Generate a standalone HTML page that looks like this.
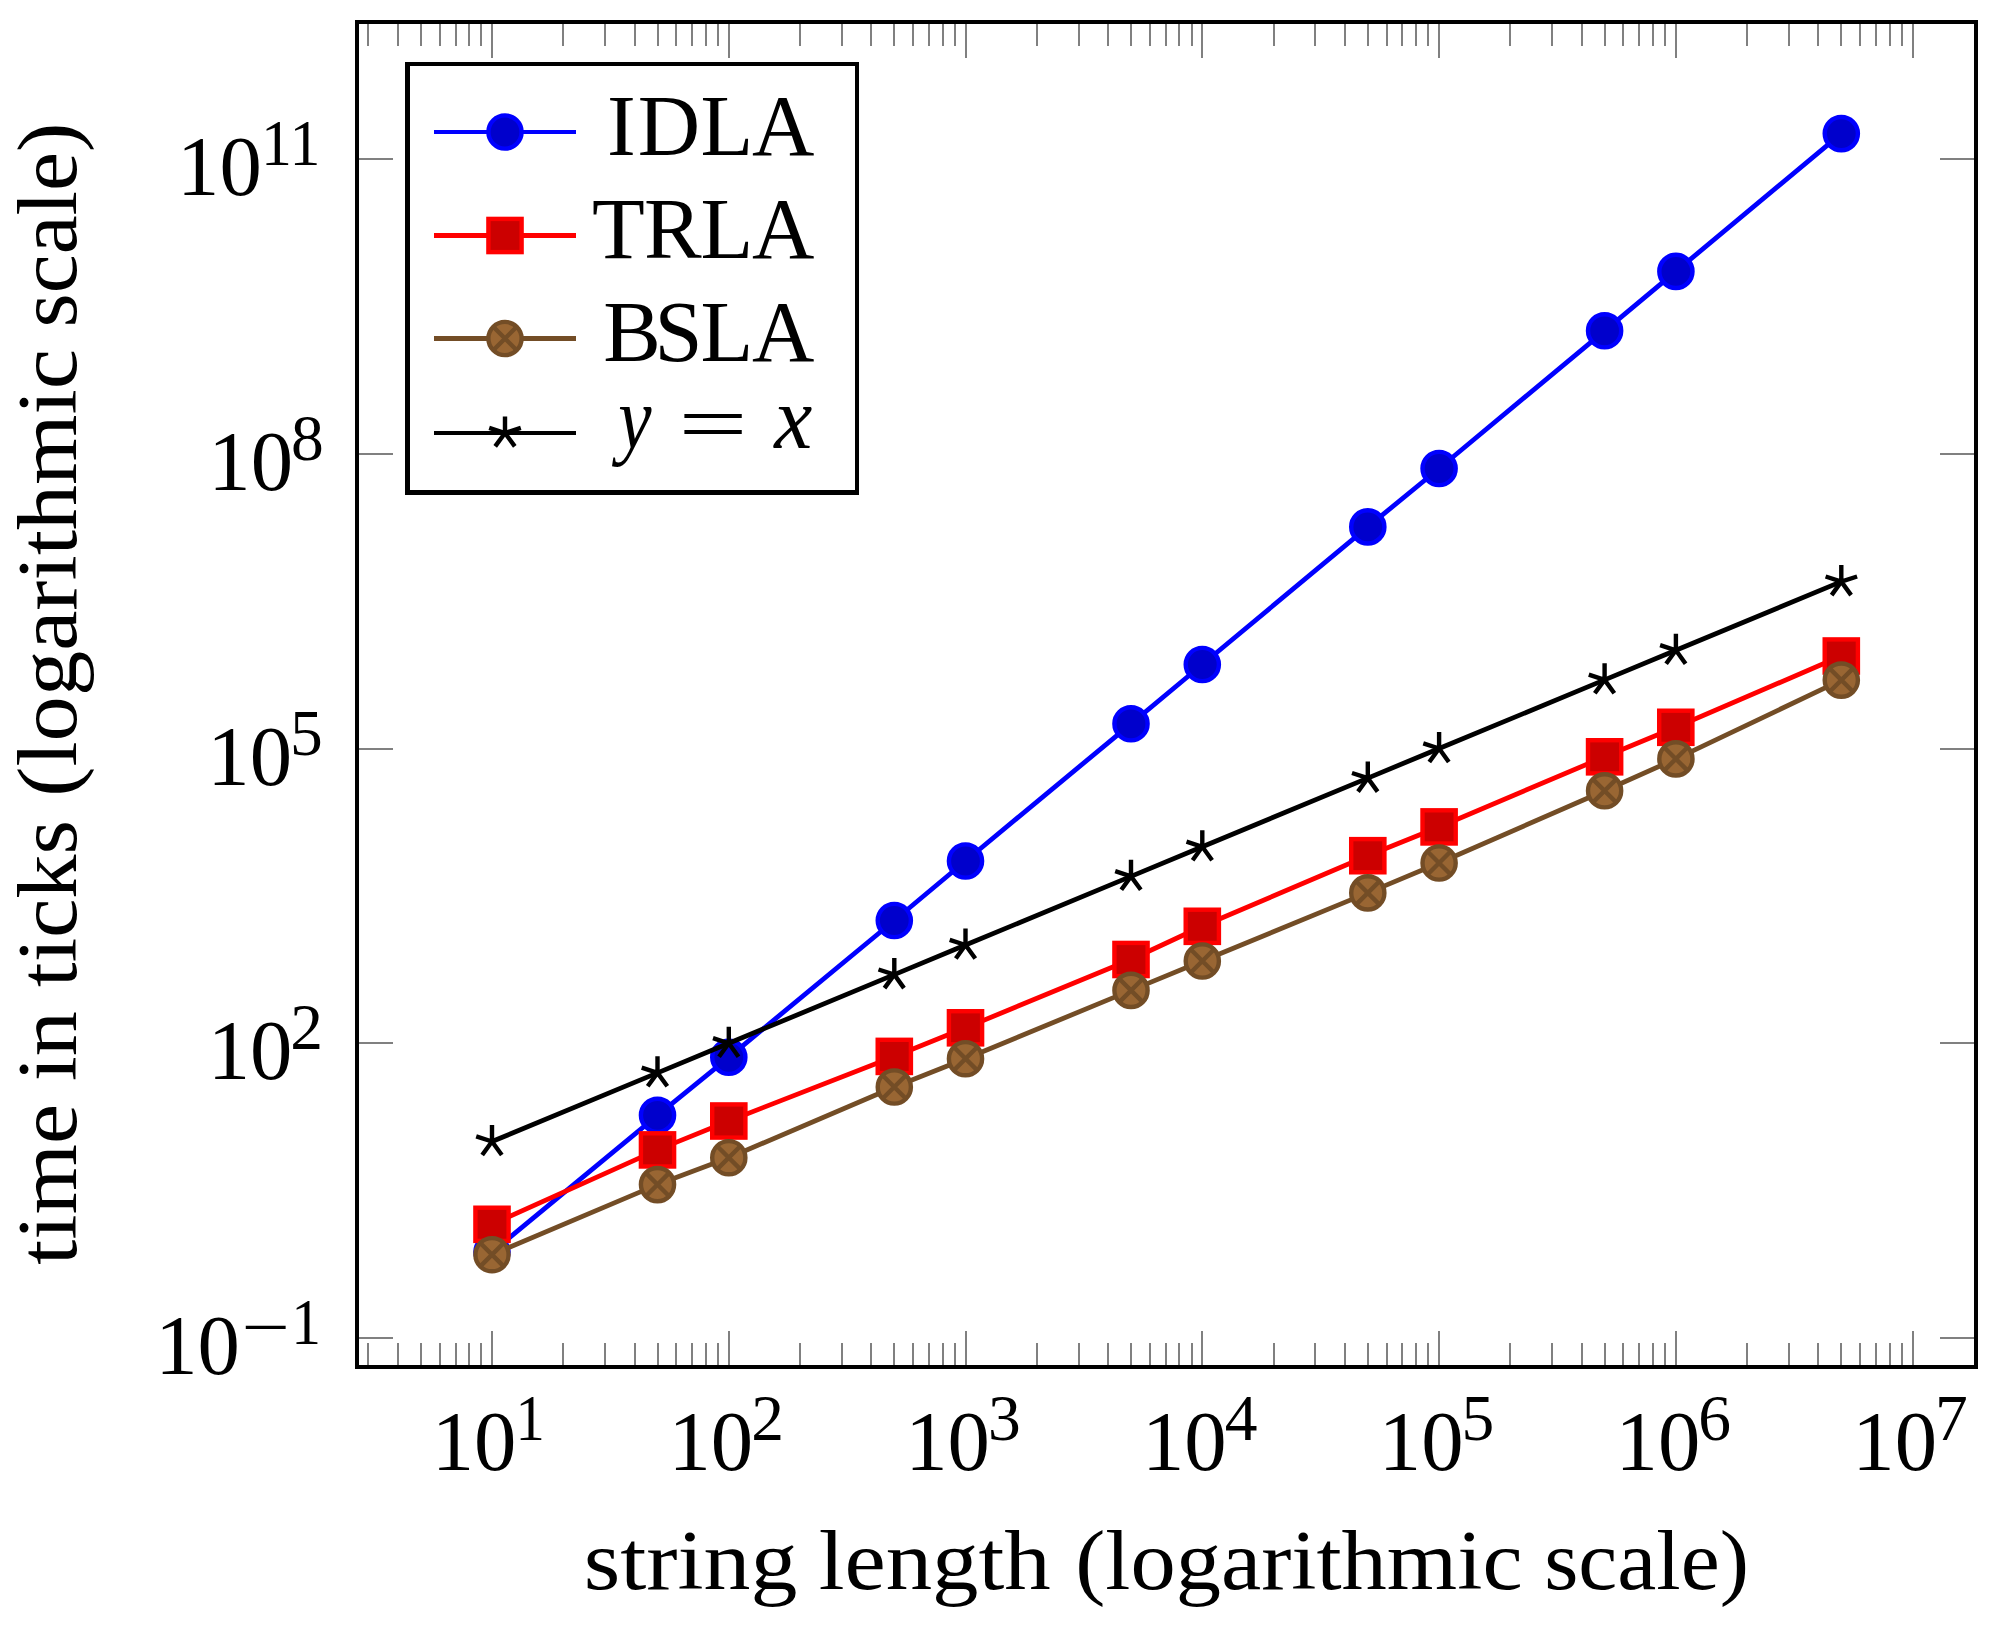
<!DOCTYPE html>
<html lang="en"><head><meta charset="utf-8"><title>Running time comparison</title>
<style>html,body{margin:0;padding:0;background:#fff}svg{display:block}text{white-space:pre}</style></head>
<body>
<svg width="1991" height="1631" viewBox="0 0 1991 1631">
<rect width="1991" height="1631" fill="#fff"/>
<path d="M368 1365.0v-22M368 24.0v22M398 1365.0v-22M398 24.0v22M421 1365.0v-22M421 24.0v22M440 1365.0v-22M440 24.0v22M456 1365.0v-22M456 24.0v22M469 1365.0v-22M469 24.0v22M481 1365.0v-22M481 24.0v22M492 1365.0v-34M492 24.0v34M563 1365.0v-22M563 24.0v22M605 1365.0v-22M605 24.0v22M635 1365.0v-22M635 24.0v22M658 1365.0v-22M658 24.0v22M676 1365.0v-22M676 24.0v22M692 1365.0v-22M692 24.0v22M706 1365.0v-22M706 24.0v22M718 1365.0v-22M718 24.0v22M729 1365.0v-34M729 24.0v34M800 1365.0v-22M800 24.0v22M842 1365.0v-22M842 24.0v22M871 1365.0v-22M871 24.0v22M894 1365.0v-22M894 24.0v22M913 1365.0v-22M913 24.0v22M929 1365.0v-22M929 24.0v22M943 1365.0v-22M943 24.0v22M955 1365.0v-22M955 24.0v22M966 1365.0v-34M966 24.0v34M1037 1365.0v-22M1037 24.0v22M1079 1365.0v-22M1079 24.0v22M1108 1365.0v-22M1108 24.0v22M1131 1365.0v-22M1131 24.0v22M1150 1365.0v-22M1150 24.0v22M1166 1365.0v-22M1166 24.0v22M1179 1365.0v-22M1179 24.0v22M1192 1365.0v-22M1192 24.0v22M1202 1365.0v-34M1202 24.0v34M1274 1365.0v-22M1274 24.0v22M1315 1365.0v-22M1315 24.0v22M1345 1365.0v-22M1345 24.0v22M1368 1365.0v-22M1368 24.0v22M1387 1365.0v-22M1387 24.0v22M1402 1365.0v-22M1402 24.0v22M1416 1365.0v-22M1416 24.0v22M1428 1365.0v-22M1428 24.0v22M1439 1365.0v-34M1439 24.0v34M1510 1365.0v-22M1510 24.0v22M1552 1365.0v-22M1552 24.0v22M1582 1365.0v-22M1582 24.0v22M1605 1365.0v-22M1605 24.0v22M1623 1365.0v-22M1623 24.0v22M1639 1365.0v-22M1639 24.0v22M1653 1365.0v-22M1653 24.0v22M1665 1365.0v-22M1665 24.0v22M1676 1365.0v-34M1676 24.0v34M1747 1365.0v-22M1747 24.0v22M1789 1365.0v-22M1789 24.0v22M1818 1365.0v-22M1818 24.0v22M1841 1365.0v-22M1841 24.0v22M1860 1365.0v-22M1860 24.0v22M1876 1365.0v-22M1876 24.0v22M1890 1365.0v-22M1890 24.0v22M1902 1365.0v-22M1902 24.0v22M1913 1365.0v-34M1913 24.0v34M359.0 1338h34M1974.0 1338h-34M359.0 1043h34M1974.0 1043h-34M359.0 749h34M1974.0 749h-34M359.0 454h34M1974.0 454h-34M359.0 159h34M1974.0 159h-34" stroke="#808080" stroke-width="2.0" fill="none"/>
<path fill-rule="evenodd" fill="#000" d="M355 20H1978V1369H355ZM359 24V1365H1974V24Z"/>
<g>
<polyline points="492.0,1252.0 657.5,1115.3 728.8,1057.3 894.3,920.5 965.5,861.0 1131.0,723.8 1202.3,664.5 1367.8,526.9 1439.1,468.5 1604.6,330.8 1675.9,271.4 1841.3,133.6" fill="none" stroke="#0000ff" stroke-width="4.8" stroke-linejoin="round"/>
<circle cx="492.0" cy="1252.0" r="16.60" fill="#0000cc" stroke="#0000ff" stroke-width="4.4"/>
<circle cx="657.5" cy="1115.3" r="16.60" fill="#0000cc" stroke="#0000ff" stroke-width="4.4"/>
<circle cx="728.8" cy="1057.3" r="16.60" fill="#0000cc" stroke="#0000ff" stroke-width="4.4"/>
<circle cx="894.3" cy="920.5" r="16.60" fill="#0000cc" stroke="#0000ff" stroke-width="4.4"/>
<circle cx="965.5" cy="861.0" r="16.60" fill="#0000cc" stroke="#0000ff" stroke-width="4.4"/>
<circle cx="1131.0" cy="723.8" r="16.60" fill="#0000cc" stroke="#0000ff" stroke-width="4.4"/>
<circle cx="1202.3" cy="664.5" r="16.60" fill="#0000cc" stroke="#0000ff" stroke-width="4.4"/>
<circle cx="1367.8" cy="526.9" r="16.60" fill="#0000cc" stroke="#0000ff" stroke-width="4.4"/>
<circle cx="1439.1" cy="468.5" r="16.60" fill="#0000cc" stroke="#0000ff" stroke-width="4.4"/>
<circle cx="1604.6" cy="330.8" r="16.60" fill="#0000cc" stroke="#0000ff" stroke-width="4.4"/>
<circle cx="1675.9" cy="271.4" r="16.60" fill="#0000cc" stroke="#0000ff" stroke-width="4.4"/>
<circle cx="1841.3" cy="133.6" r="16.60" fill="#0000cc" stroke="#0000ff" stroke-width="4.4"/>
<polyline points="492.0,1224.3 657.5,1149.9 728.8,1121.0 894.3,1056.4 965.5,1027.8 1131.0,959.5 1202.3,926.3 1367.8,855.7 1439.1,826.9 1604.6,756.8 1675.9,727.3 1841.3,656.0" fill="none" stroke="#ff0000" stroke-width="4.8" stroke-linejoin="round"/>
<rect x="475.4" y="1207.7" width="33.21" height="33.21" fill="#cc0000" stroke="#ff0000" stroke-width="4.4"/>
<rect x="640.9" y="1133.3" width="33.21" height="33.21" fill="#cc0000" stroke="#ff0000" stroke-width="4.4"/>
<rect x="712.2" y="1104.4" width="33.21" height="33.21" fill="#cc0000" stroke="#ff0000" stroke-width="4.4"/>
<rect x="877.7" y="1039.8" width="33.21" height="33.21" fill="#cc0000" stroke="#ff0000" stroke-width="4.4"/>
<rect x="948.9" y="1011.2" width="33.21" height="33.21" fill="#cc0000" stroke="#ff0000" stroke-width="4.4"/>
<rect x="1114.4" y="942.9" width="33.21" height="33.21" fill="#cc0000" stroke="#ff0000" stroke-width="4.4"/>
<rect x="1185.7" y="909.7" width="33.21" height="33.21" fill="#cc0000" stroke="#ff0000" stroke-width="4.4"/>
<rect x="1351.2" y="839.1" width="33.21" height="33.21" fill="#cc0000" stroke="#ff0000" stroke-width="4.4"/>
<rect x="1422.5" y="810.3" width="33.21" height="33.21" fill="#cc0000" stroke="#ff0000" stroke-width="4.4"/>
<rect x="1588.0" y="740.2" width="33.21" height="33.21" fill="#cc0000" stroke="#ff0000" stroke-width="4.4"/>
<rect x="1659.2" y="710.7" width="33.21" height="33.21" fill="#cc0000" stroke="#ff0000" stroke-width="4.4"/>
<rect x="1824.7" y="639.4" width="33.21" height="33.21" fill="#cc0000" stroke="#ff0000" stroke-width="4.4"/>
<polyline points="492.0,1254.7 657.5,1184.6 728.8,1157.7 894.3,1087.0 965.5,1058.7 1131.0,990.4 1202.3,961.0 1367.8,892.9 1439.1,863.0 1604.6,790.8 1675.9,758.9 1841.3,680.1" fill="none" stroke="#734d26" stroke-width="4.8" stroke-linejoin="round"/>
<circle cx="492.0" cy="1254.7" r="16.60" fill="#996633" stroke="#734d26" stroke-width="4.4"/>
<path d="M480.3 1243.0L503.7 1266.4M480.3 1266.4L503.7 1243.0" stroke="#734d26" stroke-width="4.4" fill="none"/>
<circle cx="657.5" cy="1184.6" r="16.60" fill="#996633" stroke="#734d26" stroke-width="4.4"/>
<path d="M645.8 1172.9L669.2 1196.3M645.8 1196.3L669.2 1172.9" stroke="#734d26" stroke-width="4.4" fill="none"/>
<circle cx="728.8" cy="1157.7" r="16.60" fill="#996633" stroke="#734d26" stroke-width="4.4"/>
<path d="M717.0 1146.0L740.5 1169.4M717.0 1169.4L740.5 1146.0" stroke="#734d26" stroke-width="4.4" fill="none"/>
<circle cx="894.3" cy="1087.0" r="16.60" fill="#996633" stroke="#734d26" stroke-width="4.4"/>
<path d="M882.5 1075.3L906.0 1098.7M882.5 1098.7L906.0 1075.3" stroke="#734d26" stroke-width="4.4" fill="none"/>
<circle cx="965.5" cy="1058.7" r="16.60" fill="#996633" stroke="#734d26" stroke-width="4.4"/>
<path d="M953.8 1047.0L977.3 1070.4M953.8 1070.4L977.3 1047.0" stroke="#734d26" stroke-width="4.4" fill="none"/>
<circle cx="1131.0" cy="990.4" r="16.60" fill="#996633" stroke="#734d26" stroke-width="4.4"/>
<path d="M1119.3 978.7L1142.8 1002.1M1119.3 1002.1L1142.8 978.7" stroke="#734d26" stroke-width="4.4" fill="none"/>
<circle cx="1202.3" cy="961.0" r="16.60" fill="#996633" stroke="#734d26" stroke-width="4.4"/>
<path d="M1190.6 949.3L1214.1 972.7M1190.6 972.7L1214.1 949.3" stroke="#734d26" stroke-width="4.4" fill="none"/>
<circle cx="1367.8" cy="892.9" r="16.60" fill="#996633" stroke="#734d26" stroke-width="4.4"/>
<path d="M1356.1 881.2L1379.5 904.6M1356.1 904.6L1379.5 881.2" stroke="#734d26" stroke-width="4.4" fill="none"/>
<circle cx="1439.1" cy="863.0" r="16.60" fill="#996633" stroke="#734d26" stroke-width="4.4"/>
<path d="M1427.3 851.3L1450.8 874.7M1427.3 874.7L1450.8 851.3" stroke="#734d26" stroke-width="4.4" fill="none"/>
<circle cx="1604.6" cy="790.8" r="16.60" fill="#996633" stroke="#734d26" stroke-width="4.4"/>
<path d="M1592.8 779.1L1616.3 802.5M1592.8 802.5L1616.3 779.1" stroke="#734d26" stroke-width="4.4" fill="none"/>
<circle cx="1675.9" cy="758.9" r="16.60" fill="#996633" stroke="#734d26" stroke-width="4.4"/>
<path d="M1664.1 747.2L1687.6 770.6M1664.1 770.6L1687.6 747.2" stroke="#734d26" stroke-width="4.4" fill="none"/>
<circle cx="1841.3" cy="680.1" r="16.60" fill="#996633" stroke="#734d26" stroke-width="4.4"/>
<path d="M1829.6 668.4L1853.1 691.8M1829.6 691.8L1853.1 668.4" stroke="#734d26" stroke-width="4.4" fill="none"/>
<polyline points="492.0,1141.5 657.5,1072.9 728.8,1043.3 894.3,974.6 965.5,945.0 1131.0,876.4 1202.3,846.8 1367.8,778.1 1439.1,748.5 1604.6,679.9 1675.9,650.3 1841.3,581.6" fill="none" stroke="#000" stroke-width="4.8" stroke-linejoin="round"/>
<path d="M492.0 1141.5L492.0 1124.9M492.0 1141.5L476.2 1136.4M492.0 1141.5L482.2 1155.0M492.0 1141.5L501.8 1155.0" stroke="#000" stroke-width="4.4" fill="none"/>
<path d="M657.5 1072.9L657.5 1056.3M657.5 1072.9L641.7 1067.7M657.5 1072.9L647.7 1086.3M657.5 1072.9L667.3 1086.3" stroke="#000" stroke-width="4.4" fill="none"/>
<path d="M728.8 1043.3L728.8 1026.7M728.8 1043.3L713.0 1038.2M728.8 1043.3L719.0 1056.7M728.8 1043.3L738.5 1056.7" stroke="#000" stroke-width="4.4" fill="none"/>
<path d="M894.3 974.6L894.3 958.0M894.3 974.6L878.5 969.5M894.3 974.6L884.5 988.1M894.3 974.6L904.0 988.1" stroke="#000" stroke-width="4.4" fill="none"/>
<path d="M965.5 945.0L965.5 928.4M965.5 945.0L949.7 939.9M965.5 945.0L955.8 958.5M965.5 945.0L975.3 958.5" stroke="#000" stroke-width="4.4" fill="none"/>
<path d="M1131.0 876.4L1131.0 859.8M1131.0 876.4L1115.2 871.2M1131.0 876.4L1121.3 889.8M1131.0 876.4L1140.8 889.8" stroke="#000" stroke-width="4.4" fill="none"/>
<path d="M1202.3 846.8L1202.3 830.2M1202.3 846.8L1186.5 841.7M1202.3 846.8L1192.6 860.2M1202.3 846.8L1212.1 860.2" stroke="#000" stroke-width="4.4" fill="none"/>
<path d="M1367.8 778.1L1367.8 761.5M1367.8 778.1L1352.0 773.0M1367.8 778.1L1358.0 791.6M1367.8 778.1L1377.6 791.6" stroke="#000" stroke-width="4.4" fill="none"/>
<path d="M1439.1 748.5L1439.1 731.9M1439.1 748.5L1423.3 743.4M1439.1 748.5L1429.3 762.0M1439.1 748.5L1448.8 762.0" stroke="#000" stroke-width="4.4" fill="none"/>
<path d="M1604.6 679.9L1604.6 663.3M1604.6 679.9L1588.8 674.7M1604.6 679.9L1594.8 693.3M1604.6 679.9L1614.3 693.3" stroke="#000" stroke-width="4.4" fill="none"/>
<path d="M1675.9 650.3L1675.9 633.7M1675.9 650.3L1660.1 645.2M1675.9 650.3L1666.1 663.7M1675.9 650.3L1685.6 663.7" stroke="#000" stroke-width="4.4" fill="none"/>
<path d="M1841.3 581.6L1841.3 565.0M1841.3 581.6L1825.6 576.5M1841.3 581.6L1831.6 595.1M1841.3 581.6L1851.1 595.1M1841.3 581.6L1857.1 576.5" stroke="#000" stroke-width="4.4" fill="none"/>
</g>
<path fill="#000" d="M405 62H859V495H405Z"/><path fill="#fff" d="M410 66H855V490H410Z"/>
<path d="M434 130H576V134H434Z" fill="#0000ff"/>
<path d="M434 233H576V238H434Z" fill="#ff0000"/>
<path d="M434 336H576V341H434Z" fill="#734d26"/>
<path d="M434 431H576V435H434Z" fill="#000"/>
<circle cx="505.0" cy="132.0" r="16.60" fill="#0000cc" stroke="#0000ff" stroke-width="4.4"/>
<rect x="488.4" y="218.9" width="33.21" height="33.21" fill="#cc0000" stroke="#ff0000" stroke-width="4.4"/>
<circle cx="505.0" cy="338.5" r="16.60" fill="#996633" stroke="#734d26" stroke-width="4.4"/>
<path d="M493.3 326.8L516.7 350.2M493.3 350.2L516.7 326.8" stroke="#734d26" stroke-width="4.4" fill="none"/>
<path d="M505.0 433.0L505.0 416.4M505.0 433.0L489.2 427.9M505.0 433.0L495.2 446.4M505.0 433.0L514.8 446.4M505.0 433.0L520.8 427.9" stroke="#000" stroke-width="4.4" fill="none"/>
<g font-family="'Liberation Serif', serif" fill="#000">
<text x="607.0 637.8 700.5 752.1" y="154.7" font-size="86.4">IDLA</text>
<text x="592.0 644.1 700.5 752.1" y="257.6" font-size="86.4">TRLA</text>
<text x="603.3 654.6 700.5 752.1" y="360.8" font-size="86.4">BSLA</text>
<text y="447.6" font-size="88"><tspan x="618.13" textLength="33.28" lengthAdjust="spacingAndGlyphs" font-style="italic">y</tspan> <tspan x="678.32" textLength="69.54" lengthAdjust="spacingAndGlyphs" y="451.4" font-size="80">=</tspan> <tspan x="774.34" textLength="38.01" lengthAdjust="spacingAndGlyphs" y="447.6" font-style="italic">x</tspan></text>
<text y="1470.10" font-size="84"><tspan x="431.68" textLength="84.77" lengthAdjust="spacingAndGlyphs">10</tspan><tspan x="515.62" textLength="29.33" lengthAdjust="spacingAndGlyphs" y="1439.60" font-size="65.5">1</tspan></text>
<text y="1470.10" font-size="84"><tspan x="668.45" textLength="84.77" lengthAdjust="spacingAndGlyphs">10</tspan><tspan x="751.27" y="1439.60" font-size="65.5">2</tspan></text>
<text y="1470.10" font-size="84"><tspan x="905.22" textLength="84.77" lengthAdjust="spacingAndGlyphs">10</tspan><tspan x="988.04" y="1439.60" font-size="65.5">3</tspan></text>
<text y="1470.10" font-size="84"><tspan x="1141.99" textLength="84.77" lengthAdjust="spacingAndGlyphs">10</tspan><tspan x="1224.81" y="1439.60" font-size="65.5">4</tspan></text>
<text y="1470.10" font-size="84"><tspan x="1378.76" textLength="84.77" lengthAdjust="spacingAndGlyphs">10</tspan><tspan x="1461.58" y="1439.60" font-size="65.5">5</tspan></text>
<text y="1470.10" font-size="84"><tspan x="1615.53" textLength="84.77" lengthAdjust="spacingAndGlyphs">10</tspan><tspan x="1698.35" y="1439.60" font-size="65.5">6</tspan></text>
<text y="1470.10" font-size="84"><tspan x="1852.30" textLength="84.77" lengthAdjust="spacingAndGlyphs">10</tspan><tspan x="1935.12" y="1439.60" font-size="65.5">7</tspan></text>
<text y="195.15" font-size="84"><tspan x="177.08" textLength="84.77" lengthAdjust="spacingAndGlyphs">10</tspan><tspan x="260.97" textLength="59.53" lengthAdjust="spacingAndGlyphs" y="165.15" font-size="65.5">11</tspan></text>
<text y="489.90" font-size="84"><tspan x="208.38" textLength="84.77" lengthAdjust="spacingAndGlyphs">10</tspan><tspan x="291.00" y="459.90" font-size="65.5">8</tspan></text>
<text y="784.65" font-size="84"><tspan x="207.28" textLength="84.77" lengthAdjust="spacingAndGlyphs">10</tspan><tspan x="289.90" y="754.65" font-size="65.5">5</tspan></text>
<text y="1079.40" font-size="84"><tspan x="207.68" textLength="84.77" lengthAdjust="spacingAndGlyphs">10</tspan><tspan x="290.30" y="1049.40" font-size="65.5">2</tspan></text>
<text y="1374.15" font-size="84"><tspan x="155.18" textLength="84.77" lengthAdjust="spacingAndGlyphs">10</tspan><tspan x="241.88" textLength="48.37" lengthAdjust="spacingAndGlyphs" y="1349.00" font-size="65.5">−</tspan><tspan x="291.25" textLength="29.73" lengthAdjust="spacingAndGlyphs" y="1344.15" font-size="65.5">1</tspan></text>
<text y="1589" font-size="84"><tspan x="583.67" textLength="213.80" lengthAdjust="spacingAndGlyphs">string</tspan> <tspan x="818.65" textLength="232.05" lengthAdjust="spacingAndGlyphs">length</tspan> <tspan x="1075.17" textLength="447.42" lengthAdjust="spacingAndGlyphs">(logarithmic</tspan> <tspan x="1544.15" textLength="204.82" lengthAdjust="spacingAndGlyphs">scale)</tspan></text>
<text transform="translate(76 0) rotate(-90)" y="0" font-size="84"><tspan x="-1264.90" textLength="160.99" lengthAdjust="spacingAndGlyphs">time</tspan> <tspan x="-1081.31" textLength="70.21" lengthAdjust="spacingAndGlyphs">in</tspan> <tspan x="-986.90" textLength="166.73" lengthAdjust="spacingAndGlyphs">ticks</tspan> <tspan x="-796.73" textLength="447.62" lengthAdjust="spacingAndGlyphs">(logarithmic</tspan> <tspan x="-327.55" textLength="204.82" lengthAdjust="spacingAndGlyphs">scale)</tspan></text>
</g>
</svg>
</body></html>
